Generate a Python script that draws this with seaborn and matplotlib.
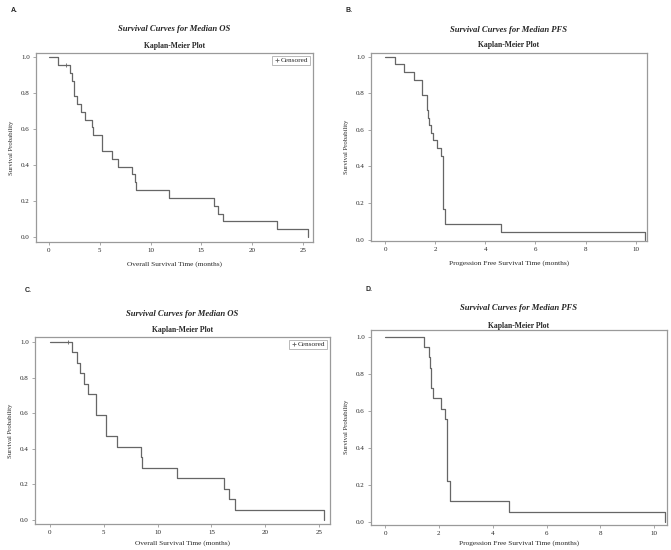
import numpy as np
import pandas as pd
import matplotlib
matplotlib.use("Agg")
import matplotlib.pyplot as plt
import seaborn as sns
from matplotlib.lines import Line2D

# Kaplan-Meier step data (time in months, survival after each step)
os_times_a = [0, 0.9, 2.05, 2.25, 2.5, 2.78, 3.12, 3.5, 4.27, 4.35, 5.18, 5.25, 6.23, 6.82,
              8.2, 8.5, 8.55, 11.8, 16.25, 16.67, 17.15, 22.5, 25.5]
os_surv_a = [1.0, 0.957, 0.913, 0.870, 0.783, 0.739, 0.696, 0.652, 0.609, 0.565, 0.522, 0.478,
             0.435, 0.391, 0.348, 0.304, 0.261, 0.217, 0.174, 0.130, 0.087, 0.043, 0.0]
os_cens_a = [1.7]

pfs_times_b = [0, 0.40, 0.74, 1.17, 1.46, 1.66, 1.69, 1.72, 1.75, 1.82, 1.91, 2.08, 2.23, 2.32,
               2.40, 4.63, 10.38]
pfs_surv_b = [1.0, 0.958, 0.917, 0.875, 0.792, 0.750, 0.708, 0.667, 0.625, 0.583, 0.542, 0.500,
              0.458, 0.167, 0.083, 0.042, 0.0]

os_times_c = [0, 2.04, 2.54, 2.82, 3.19, 3.5, 4.31, 5.2, 5.25, 6.23, 8.45, 8.52, 11.8, 16.2,
              16.67, 17.19, 25.46]
os_surv_c = [1.0, 0.941, 0.882, 0.824, 0.765, 0.706, 0.588, 0.529, 0.471, 0.412, 0.353, 0.294,
             0.235, 0.176, 0.118, 0.059, 0.0]
os_cens_c = [1.7]

pfs_times_d = [0, 1.43, 1.65, 1.68, 1.69, 1.70, 1.80, 2.08, 2.21, 2.32, 2.40, 4.60, 10.38]
pfs_surv_d = [1.0, 0.944, 0.889, 0.833, 0.778, 0.722, 0.667, 0.611, 0.556, 0.222, 0.111, 0.056, 0.0]

sns.set_style("ticks")
plt.rcParams['font.family'] = ['Liberation Serif', 'DejaVu Serif']

W, H = 671, 550
fig = plt.figure(figsize=(W / 100, H / 100), dpi=100)

frame_col = '#9a9a9a'
line_col = '#666666'


def km_panel(box, times, surv, xlim, ylim, xticks, xlabel, title, letter, letter_xy,
             title_y, sub_y, xpad, cens=None):
    l, t, r, b = box
    ax = fig.add_axes([l / W, 1 - b / H, (r - l) / W, (b - t) / H])
    df = pd.DataFrame({'time': times, 'surv': surv})
    sns.lineplot(data=df, x='time', y='surv', drawstyle='steps-post', estimator=None,
                 color=line_col, linewidth=0.9, ax=ax)
    if cens is not None:
        ys = [surv[np.searchsorted(times, c, side='right') - 1] for c in cens]
        ax.plot(cens, ys, linestyle='none', marker='+', markersize=3.5, color=line_col,
                markeredgewidth=0.6)
        h = Line2D([], [], linestyle='none', marker='+', markersize=3.5, color=line_col,
                   markeredgewidth=0.6)
        leg = ax.legend([h], ['Censored'], loc='upper right', fontsize=5.2, frameon=True,
                        fancybox=False, borderpad=0.25, handletextpad=0.2,
                        handlelength=0.8, borderaxespad=0.35)
        leg.get_frame().set_edgecolor(frame_col)
        leg.get_frame().set_linewidth(0.6)
    ax.set_xlim(*xlim)
    ax.set_ylim(*ylim)
    ax.set_xticks(xticks)
    ax.set_yticks([0, 0.2, 0.4, 0.6, 0.8, 1.0])
    ax.set_yticklabels(['0.0', '0.2', '0.4', '0.6', '0.8', '1.0'])
    ax.tick_params(labelsize=5, length=2.5, width=0.6, color=frame_col, pad=2)
    for s in ax.spines.values():
        s.set_color(frame_col)
        s.set_linewidth(0.9)
    ax.set_xlabel(xlabel, fontsize=5.3, labelpad=xpad)
    ax.set_ylabel('Survival Probability', fontsize=4.8, labelpad=5)
    cx = (l + r) / 2 / W
    fig.text(cx, 1 - title_y / H, title, fontsize=6.2, fontweight='bold', fontstyle='italic',
             ha='center', va='center')
    fig.text(cx, 1 - sub_y / H, 'Kaplan-Meier Plot', fontsize=5.5, fontweight='bold',
             ha='center', va='center')
    fig.text(letter_xy[0] / W, 1 - letter_xy[1] / H, letter, fontsize=5,
             fontweight='bold', family='Liberation Sans', ha='left', va='center')
    return ax


km_panel((36, 53, 313, 242), os_times_a, os_surv_a, (-1.28, 26.0), (-0.028, 1.023),
         [0, 5, 10, 15, 20, 25], 'Overall Survival Time (months)',
         'Survival Curves for Median OS', 'A.', (11, 10), 29, 46, 6, cens=os_cens_a)
km_panel((371, 53, 647, 241), pfs_times_b, pfs_surv_b, (-0.56, 10.45), (-0.008, 1.02),
         [0, 2, 4, 6, 8, 10], 'Progession Free Survival Time (months)',
         'Survival Curves for Median PFS', 'B.', (346, 10), 30, 45, 6)
km_panel((35, 337, 330, 524), os_times_c, os_surv_c, (-1.39, 26.02), (-0.022, 1.028),
         [0, 5, 10, 15, 20, 25], 'Overall Survival Time (months)',
         'Survival Curves for Median OS', 'C.', (25, 290), 314, 330, 3.5, cens=os_cens_c)
km_panel((371, 330, 667, 524.5), pfs_times_d, pfs_surv_d, (-0.52, 10.47), (-0.014, 1.036),
         [0, 2, 4, 6, 8, 10], 'Progession Free Survival Time (months)',
         'Survival Curves for Median PFS', 'D.', (365, 289), 308, 326, 3.5)

fig.savefig('out.png', dpi=100)
